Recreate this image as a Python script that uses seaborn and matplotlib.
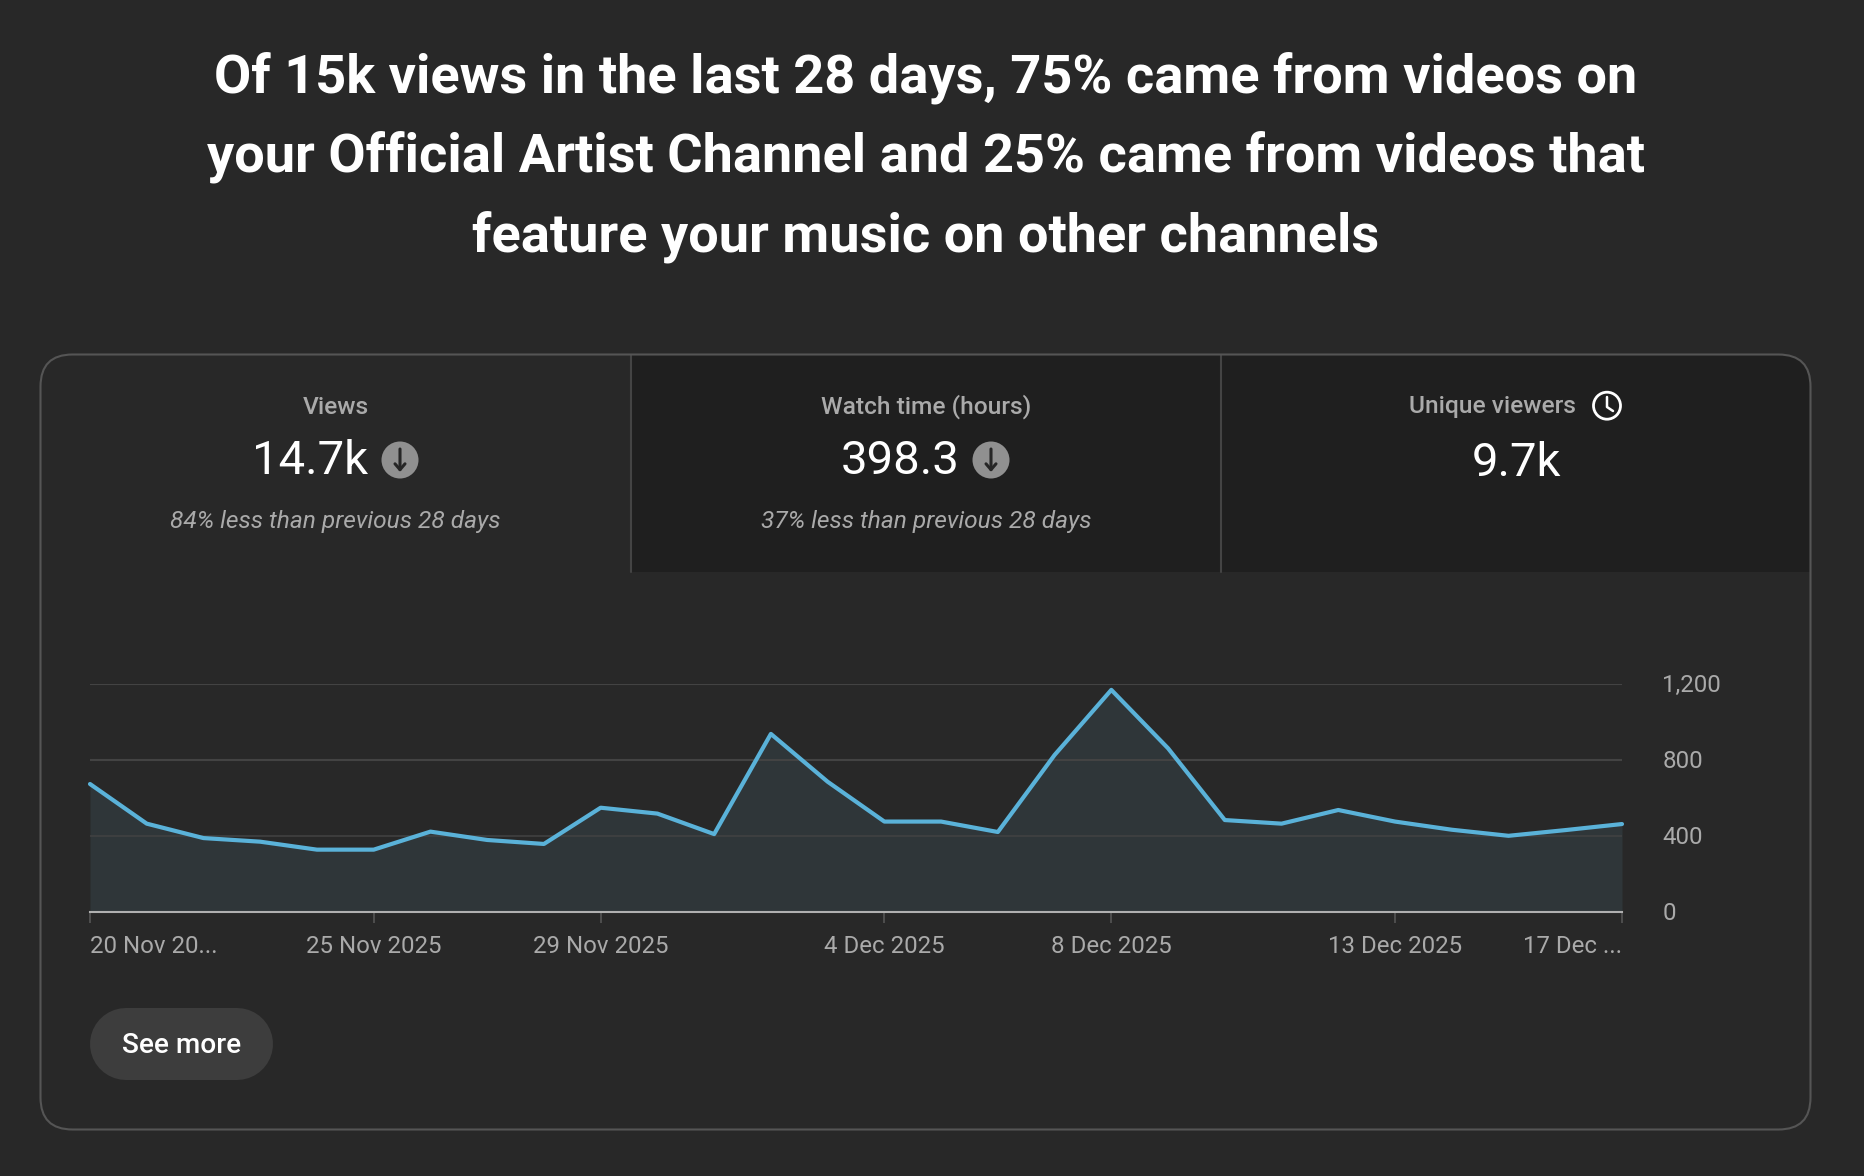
import pandas as pd
import matplotlib
matplotlib.use('Agg')
import matplotlib.pyplot as plt
import seaborn as sns
from matplotlib.patches import FancyBboxPatch, Rectangle, Circle
from matplotlib.transforms import ScaledTranslation

# daily views
dates = ['2025-11-20', '2025-11-21', '2025-11-22', '2025-11-23', '2025-11-24', '2025-11-25', '2025-11-26',
         '2025-11-27', '2025-11-28', '2025-11-29', '2025-11-30', '2025-12-01', '2025-12-02', '2025-12-03',
         '2025-12-04', '2025-12-05', '2025-12-06', '2025-12-07', '2025-12-08', '2025-12-09', '2025-12-10',
         '2025-12-11', '2025-12-12', '2025-12-13', '2025-12-14', '2025-12-15', '2025-12-16', '2025-12-17']
views = [673, 464, 388, 369, 327, 327, 422, 378, 357, 548, 517, 409, 937, 685,
         475, 475, 420, 826, 1169, 861, 483, 464, 536, 475, 432, 400, 430, 462]

tick_dates = ['2025-11-20', '2025-11-25', '2025-11-29', '2025-12-04', '2025-12-08', '2025-12-13', '2025-12-17']
tick_labels = ['20 Nov 20...', '25 Nov 2025', '29 Nov 2025', '4 Dec 2025', '8 Dec 2025', '13 Dec 2025', '17 Dec ...']
y_ticks = [0, 400, 800, 1200]
y_labels = ['0', '400', '800', '1,200']

title_lines = ['Of 15k views in the last 28 days, 75% came from videos on',
               'your Official Artist Channel and 25% came from videos that',
               'feature your music on other channels']

BG = '#282828'
DARK = '#1f1f1f'
EDGE = '#555555'
W, H = 1864, 1176

sns.set_theme(style='dark', rc={'figure.facecolor': BG, 'axes.facecolor': 'none'})
plt.rcParams['font.family'] = ['Roboto', 'DejaVu Sans']


def pt(px):
    return px * 0.72


fig = plt.figure(figsize=(W / 100, H / 100), dpi=100, facecolor=BG)

# full size layer in pixels for the card and the text
bg = fig.add_axes([0, 0, 1, 1])
bg.set_xlim(0, W)
bg.set_ylim(H, 0)
bg.axis('off')

for t, y in zip(title_lines, [77.5, 157, 236.5]):
    bg.text(926, y, t, color='white', fontsize=pt(54.1), fontweight='bold', ha='center', va='center')

card = FancyBboxPatch((67, 381), 1717, 722, boxstyle='round,pad=26.5,rounding_size=32',
                      fc='none', ec=EDGE, lw=1.5, zorder=4)
bg.add_patch(card)
tabs = Rectangle((631, 355), 1180, 217, fc=DARK, ec='none', zorder=1)
bg.add_patch(tabs)
tabs.set_clip_path(card)
bg.plot([631, 631], [355, 572], color='#444444', lw=1.5, zorder=2)
bg.plot([1221, 1221], [355, 572], color='#444444', lw=1.5, zorder=2)

for x, t in zip([335.5, 926, 1492], ['Views', 'Watch time (hours)', 'Unique viewers']):
    bg.text(x, 407, t, color='#aaaaaa', fontsize=pt(24.5), fontweight='medium', ha='center', va='center')
for x, y, t in zip([310, 900, 1516], [461, 461, 462.5], ['14.7k', '398.3', '9.7k']):
    bg.text(x, y, t, color='white', fontsize=pt(47.3), ha='center', va='center')
for x, t in zip([335.5, 926], ['84% less than previous 28 days', '37% less than previous 28 days']):
    bg.text(x, 521.5, t, color='#aaaaaa', fontsize=pt(24.5), style='italic', ha='center', va='center')

# down arrows
for x in [400, 991]:
    bg.add_patch(Circle((x, 460), 18.5, fc='#909090', ec='none', zorder=3))
    bg.annotate('', xy=(x, 472), xytext=(x, 449), zorder=4,
                arrowprops=dict(arrowstyle='->,head_width=0.3,head_length=0.35', color='#262626', lw=2.2,
                                shrinkA=0, shrinkB=0))

# clock
bg.add_patch(Circle((1607, 405.7), 13.5, fc='none', ec='white', lw=2, zorder=3))
bg.plot([1607, 1607, 1613], [397, 407, 411], color='white', lw=1.8, zorder=3)

# button
bg.plot([126, 237], [1044, 1044], color='#3d3d3d', lw=pt(72), solid_capstyle='round', zorder=3)
bg.text(181.5, 1045.5, 'See more', color='white', fontsize=pt(28), fontweight='medium',
        ha='center', va='center', zorder=4)

# chart
ax = fig.add_axes([90 / W, 1 - 911.7 / H, 1532 / W, 227.7 / H])
df = pd.DataFrame({'date': pd.to_datetime(dates), 'views': views})
ax.fill_between(df['date'], df['views'], 0, color='#2f3639', lw=0, zorder=1)
for v in y_ticks[1:]:
    ax.axhline(v, color='#434343', lw=1.5, zorder=1.5, alpha=0.75 if v == 400 else 1)
sns.lineplot(data=df, x='date', y='views', ax=ax, color='#5ab2d9', lw=3, zorder=3, clip_on=False)

ax.set_xlim(df['date'].iloc[0], df['date'].iloc[-1])
ax.set_ylim(0, 1200)
ax.set_xlabel('')
ax.set_ylabel('')
ax.grid(False)
for s in ['top', 'left', 'right']:
    ax.spines[s].set_visible(False)
ax.spines['bottom'].set_color('#b0b0b0')
ax.spines['bottom'].set_linewidth(1.5)
ax.spines['bottom'].set_zorder(4)

ax.set_xticks(pd.to_datetime(tick_dates))
ax.set_xticklabels(tick_labels)
ax.set_yticks(y_ticks)
ax.set_yticklabels(y_labels)
ax.yaxis.tick_right()
ax.tick_params(axis='x', bottom=True, length=8, width=1.2, color='#555555', labelcolor='#aaaaaa',
               labelsize=pt(24), pad=9)
ax.tick_params(axis='y', right=False, labelcolor='#aaaaaa', labelsize=pt(24), pad=22.9)
labels = ax.get_xticklabels()
labels[0].set_ha('left')
labels[-1].set_ha('right')
for lab in ax.get_yticklabels():
    lab.set_transform(lab.get_transform() + ScaledTranslation(0, 1 / 100, fig.dpi_scale_trans))

fig.savefig('out.png', dpi=100, facecolor=BG)
